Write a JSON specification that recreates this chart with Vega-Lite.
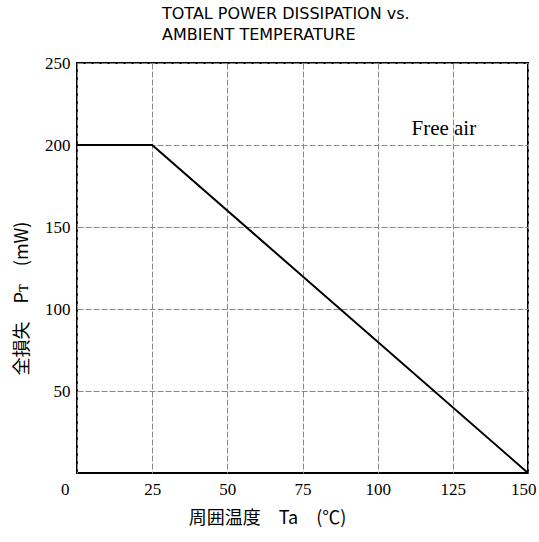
{
  "$schema": "https://vega.github.io/schema/vega-lite/v6.json",
  "width": 451,
  "height": 410,
  "autosize": {"type": "none"},
  "padding": {"left": 77, "top": 63, "right": 11, "bottom": 69},
  "background": "white",
  "title": {
    "text": ["TOTAL POWER DISSIPATION vs.", "AMBIENT TEMPERATURE"],
    "anchor": "start",
    "frame": "group",
    "dx": 85,
    "offset": 11,
    "font": "DejaVu Sans",
    "fontSize": 16,
    "fontWeight": "normal",
    "color": "black",
    "lineHeight": 21
  },
  "config": {
    "view": {"stroke": "black", "strokeWidth": 2},
    "axis": {
      "labelFont": "Liberation Serif",
      "labelFontSize": 17,
      "labelColor": "black",
      "titleFont": "Noto Sans CJK JP",
      "titleFontSize": 18,
      "titleFontWeight": "normal",
      "titleColor": "black",
      "gridColor": "#888",
      "gridDash": [6, 2],
      "gridWidth": 1,
      "gridOpacity": 1,
      "domain": false,
      "ticks": false
    }
  },
  "datasets": {
    "curve": [
      {"ta": 0, "pt": 200},
      {"ta": 25, "pt": 200},
      {"ta": 150, "pt": 0}
    ],
    "note": [
      {"ta": 122, "pt": 210, "label": "Free air"}
    ]
  },
  "layer": [
    {
      "data": {"name": "curve"},
      "mark": {"type": "line", "color": "black", "strokeWidth": 2},
      "encoding": {
        "x": {
          "field": "ta",
          "type": "quantitative",
          "scale": {"domain": [0, 150], "nice": false},
          "axis": {
            "values": [0, 25, 50, 75, 100, 125, 150],
            "labelPadding": 8,
            "labelAlign": {"condition": [{"test": "datum.value == 0", "value": "right"}, {"test": "datum.value == 150", "value": "right"}], "value": "center"},
            "labelOffset": {"condition": [{"test": "datum.value == 0", "value": -8}, {"test": "datum.value == 150", "value": 8}], "value": 0},
            "title": "周囲温度　Ta　(℃)",
            "titlePadding": 12,
            "titleX": 190
          }
        },
        "y": {
          "field": "pt",
          "type": "quantitative",
          "scale": {"domain": [0, 250], "nice": false},
          "axis": {
            "values": [50, 100, 150, 200, 250],
            "labelPadding": 7,
            "title": "全損失　Pᴛ　(mW)",
            "titlePadding": 13,
            "titleY": 235
          }
        }
      }
    },
    {
      "data": {"name": "note"},
      "mark": {"type": "text", "font": "Liberation Serif", "fontSize": 21, "color": "black"},
      "encoding": {
        "x": {"field": "ta", "type": "quantitative"},
        "y": {"field": "pt", "type": "quantitative"},
        "text": {"field": "label"}
      }
    }
  ]
}
